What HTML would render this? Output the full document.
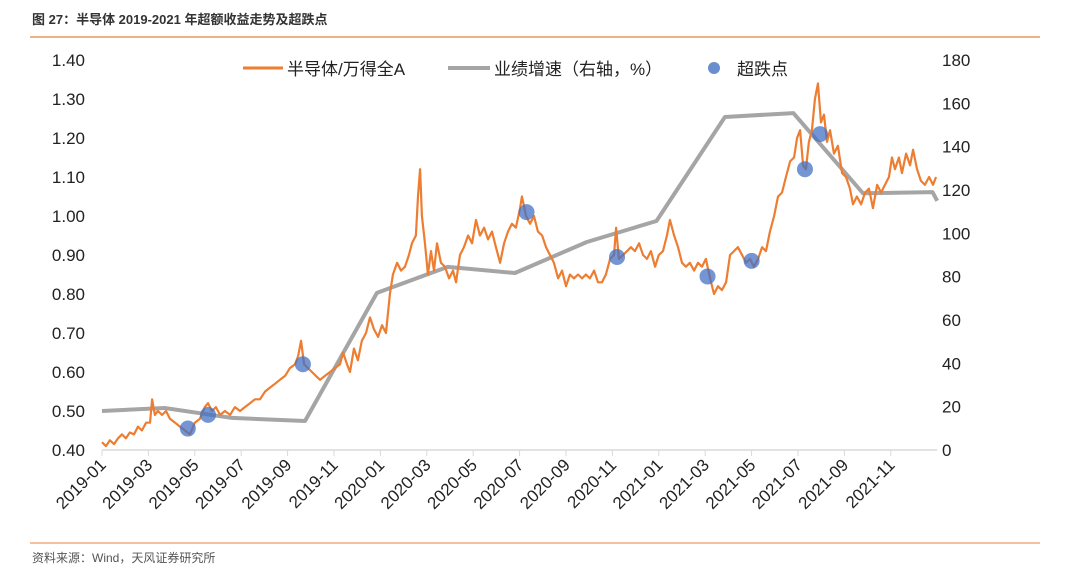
<!DOCTYPE html>
<html><head><meta charset="utf-8">
<style>
body{margin:0;background:#fff;width:1080px;height:581px;overflow:hidden;font-family:"Liberation Sans","Noto Sans CJK SC",sans-serif;}
svg text{font-family:"Liberation Sans","Noto Sans CJK SC",sans-serif;}
</style></head>
<body>
<svg id="chart" width="1080" height="581" xmlns="http://www.w3.org/2000/svg">
<text x="32" y="24" font-size="13" font-weight="bold" fill="#333">图 27：半导体 2019-2021 年超额收益走势及超跌点</text>
<line x1="30" y1="37" x2="1040" y2="37" stroke="#E8833A" stroke-width="1.2"/>
<line x1="30" y1="543" x2="1040" y2="543" stroke="#E8833A" stroke-width="1"/>
<text x="32" y="562" font-size="12" fill="#555">资料来源：Wind，天风证券研究所</text>
<g id="legend">
<line x1="243" y1="68" x2="283" y2="68" stroke="#ED7D31" stroke-width="3"/>
<text x="287" y="75" font-size="17" fill="#222">半导体/万得全A</text>
<line x1="448" y1="68" x2="490" y2="68" stroke="#A5A5A5" stroke-width="4"/>
<text x="494" y="75" font-size="17" fill="#222">业绩增速（右轴，%）</text>
<circle cx="714" cy="68" r="6" fill="#4472C4" fill-opacity="0.8"/>
<text x="737" y="75" font-size="17" fill="#222">超跌点</text>
</g>
<g id="axes"></g>
<g id="series"></g>
</svg>
<script>
const xTickLabels=["2019-01","2019-03","2019-05","2019-07","2019-09","2019-11","2020-01","2020-03","2020-05","2020-07","2020-09","2020-11","2021-01","2021-03","2021-05","2021-07","2021-09","2021-11"];
const leftTicks=[0.40,0.50,0.60,0.70,0.80,0.90,1.00,1.10,1.20,1.30,1.40];
const rightTicks=[0,20,40,60,80,100,120,140,160,180];
const growthMonth=[0,2.7,5.6,8.75,11.85,14.9,17.8,20.9,23.9,26.85,29.8,32.8,35.8,36];
const growthValue=[18,19.4,14.8,13.4,72.5,84.5,81.7,96,105.7,153.7,155.5,118.5,119,115];
const dipMonth=[3.7,4.57,8.66,18.3,22.2,26.1,28.0,30.3,30.95];
const dipValue=[0.455,0.49,0.62,1.01,0.895,0.845,0.885,1.12,1.21];
const obsMonth=[0,.17,.34,.52,.69,.86,1.03,1.2,1.38,1.55,1.72,1.9,2.07,2.16,2.28,2.41,2.59,2.76,2.93,3.15,3.36,3.58,3.79,4.0,4.22,4.43,4.57,4.74,4.91,5.09,5.3,5.52,5.73,5.95,6.16,6.38,6.59,6.81,7.03,7.24,7.46,7.67,7.89,8.1,8.32,8.45,8.58,8.71,8.88,9.05,9.22,9.4,9.61,9.83,10.04,10.26,10.39,10.56,10.69,10.86,11.03,11.2,11.38,11.55,11.72,11.9,12.07,12.24,12.41,12.54,12.72,12.89,13.06,13.23,13.36,13.53,13.62,13.71,13.79,13.92,14.05,14.18,14.31,14.44,14.61,14.78,14.96,15.13,15.26,15.43,15.6,15.78,15.95,16.12,16.29,16.47,16.64,16.81,16.98,17.16,17.33,17.5,17.67,17.84,18.02,18.1,18.28,18.45,18.62,18.79,18.97,19.14,19.31,19.48,19.66,19.83,20.0,20.17,20.34,20.52,20.69,20.86,21.03,21.21,21.38,21.55,21.72,21.9,22.07,22.16,22.28,22.46,22.63,22.8,22.97,23.15,23.32,23.49,23.66,23.84,24.0,24.18,24.35,24.48,24.66,24.83,25.0,25.17,25.34,25.52,25.69,25.86,26.03,26.21,26.38,26.55,26.72,26.9,27.07,27.24,27.41,27.59,27.76,27.93,28.1,28.28,28.45,28.62,28.79,28.97,29.14,29.31,29.48,29.66,29.83,29.96,30.09,30.22,30.34,30.47,30.6,30.73,30.86,30.99,31.12,31.25,31.38,31.55,31.72,31.9,32.07,32.24,32.37,32.54,32.72,32.89,33.06,33.23,33.41,33.58,33.75,33.92,34.05,34.18,34.35,34.48,34.66,34.83,34.96,35.13,35.3,35.47,35.65,35.82,35.95];
const obsValue=[0.42,0.41,0.425,0.415,0.43,0.44,0.43,0.445,0.44,0.46,0.45,0.47,0.47,0.53,0.49,0.50,0.49,0.50,0.48,0.47,0.46,0.45,0.44,0.47,0.48,0.51,0.52,0.50,0.51,0.49,0.50,0.49,0.51,0.50,0.51,0.52,0.53,0.53,0.55,0.56,0.57,0.58,0.59,0.61,0.62,0.64,0.68,0.62,0.61,0.60,0.59,0.58,0.59,0.60,0.61,0.62,0.65,0.62,0.60,0.66,0.63,0.68,0.70,0.74,0.71,0.69,0.72,0.70,0.80,0.85,0.88,0.86,0.87,0.90,0.93,0.95,1.05,1.12,1.00,0.93,0.85,0.91,0.86,0.93,0.88,0.87,0.84,0.86,0.83,0.90,0.92,0.95,0.93,0.99,0.95,0.97,0.94,0.96,0.92,0.88,0.93,0.96,0.98,0.97,1.02,1.05,1.00,0.98,1.00,0.96,0.95,0.92,0.90,0.88,0.84,0.86,0.82,0.85,0.84,0.85,0.84,0.85,0.84,0.86,0.83,0.83,0.85,0.89,0.90,0.97,0.89,0.90,0.91,0.92,0.91,0.93,0.90,0.89,0.91,0.87,0.90,0.91,0.95,0.99,0.95,0.92,0.88,0.87,0.88,0.86,0.88,0.87,0.89,0.84,0.80,0.82,0.81,0.83,0.90,0.91,0.92,0.90,0.88,0.89,0.87,0.89,0.92,0.91,0.96,1.00,1.05,1.06,1.10,1.14,1.15,1.20,1.22,1.13,1.12,1.19,1.22,1.30,1.34,1.24,1.26,1.19,1.22,1.16,1.18,1.11,1.10,1.07,1.03,1.05,1.03,1.06,1.07,1.02,1.08,1.06,1.08,1.10,1.15,1.12,1.15,1.11,1.16,1.13,1.17,1.12,1.09,1.08,1.10,1.08,1.10];

const NS="http://www.w3.org/2000/svg";
const X0=102, MONTH_W=23.2, Y0=450, TOP=60;
function xScale(m){return X0+m*MONTH_W;}
function yLeft(v){return Y0-(v-0.4)/1.0*(Y0-TOP);}
function yRight(v){return Y0-v/180*(Y0-TOP);}
function mk(tag,attrs,parent){const e=document.createElementNS(NS,tag);for(const k in attrs)e.setAttribute(k,attrs[k]);parent.appendChild(e);return e;}
const axes=document.getElementById('axes'), series=document.getElementById('series');

const axisLine=mk('line',{x1:X0,y1:Y0,x2:xScale(36),y2:Y0,stroke:'#D9D9D9','stroke-width':1.5},axes);


xTickLabels.forEach((lab,i)=>{
  const x=xScale(i*2);
  const t=mk('line',{x1:x,y1:Y0,x2:x,y2:Y0+6,stroke:'#D9D9D9','stroke-width':1},axes);
  
  
  const tx=mk('text',{x:x+5,y:Y0+16,'font-size':17,fill:'#222','text-anchor':'end',transform:`rotate(-45 ${x+5} ${Y0+16})`},axes);
  tx.textContent=lab;
  
  
});
leftTicks.forEach(v=>{
  const tx=mk('text',{x:85,y:yLeft(v)+6,'font-size':17,fill:'#222','text-anchor':'end'},axes);
  tx.textContent=v.toFixed(2);
  
  
});
rightTicks.forEach(v=>{
  const tx=mk('text',{x:942,y:yRight(v)+6,'font-size':17,fill:'#222','text-anchor':'start'},axes);
  tx.textContent=String(v);
  
  
});

const gp=mk('polyline',{points:growthMonth.map((m,i)=>xScale(m)+','+yRight(growthValue[i])).join(' '),fill:'none',stroke:'#A5A5A5','stroke-width':4,'stroke-linejoin':'round'},series);


const op=mk('polyline',{points:obsMonth.map((m,i)=>xScale(m)+','+yLeft(obsValue[i])).join(' '),fill:'none',stroke:'#ED7D31','stroke-width':2.2,'stroke-linejoin':'round'},series);


dipMonth.forEach((m,i)=>{
  const c=mk('circle',{cx:xScale(m),cy:yLeft(dipValue[i]),r:8,fill:'#4472C4','fill-opacity':0.75},series);
  
  
});
</script>
</body></html>
